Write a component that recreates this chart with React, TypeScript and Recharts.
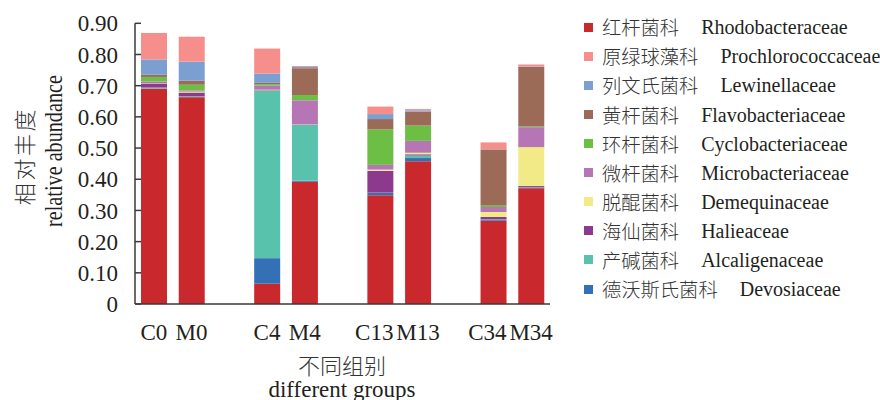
import { BarChart, Bar, XAxis, YAxis, Legend, Label } from "recharts";

// Relative abundance of the ten dominant bacterial families per sample group.
const GROUPS = ["C0", "M0", "C4", "M4", "C13", "M13", "C34", "M34"];

const rhodobacteraceae = [0.69, 0.663, 0.065, 0.392, 0.349, 0.458, 0.267, 0.371];
const devosiaceae = [0.001, 0.001, 0.082, 0.003, 0.007, 0.01, 0.004, 0.002];
const alcaligenaceae = [0.003, 0.002, 0.536, 0.179, 0.001, 0.008, 0.001, 0.001];
const halieaceae = [0.012, 0.012, 0.002, 0.001, 0.07, 0.004, 0.007, 0.004];
const demequinaceae = [0.001, 0.003, 0.002, 0.001, 0.004, 0.005, 0.016, 0.125];
const microbacteriaceae = [0.006, 0.003, 0.013, 0.077, 0.015, 0.038, 0.016, 0.064];
const cyclobacteriaceae = [0.015, 0.019, 0.005, 0.017, 0.114, 0.049, 0.006, 0.003];
const flavobacteriaceae = [0.007, 0.013, 0.004, 0.086, 0.033, 0.045, 0.178, 0.19];
const lewinellaceae = [0.049, 0.061, 0.03, 0.004, 0.016, 0.004, 0.001, 0.002];
const prochlorococcaceae = [0.085, 0.08, 0.08, 0.003, 0.024, 0.004, 0.022, 0.006];

const Y_TICKS = [0, 0.1, 0.2, 0.3, 0.4, 0.5, 0.6, 0.7, 0.8, 0.9];

type Family = { key: string; zh: string; en: string; color: string; values: number[] };

// legend order (top to bottom)
const FAMILIES: Family[] = [
  { key: "rho", zh: "红杆菌科", en: "Rhodobacteraceae", color: "#C9282D", values: rhodobacteraceae },
  { key: "pro", zh: "原绿球藻科", en: "Prochlorococcaceae", color: "#F68E8C", values: prochlorococcaceae },
  { key: "lew", zh: "列文氏菌科", en: "Lewinellaceae", color: "#7B9FD1", values: lewinellaceae },
  { key: "fla", zh: "黄杆菌科", en: "Flavobacteriaceae", color: "#9B6B57", values: flavobacteriaceae },
  { key: "cyc", zh: "环杆菌科", en: "Cyclobacteriaceae", color: "#6DBE45", values: cyclobacteriaceae },
  { key: "mic", zh: "微杆菌科", en: "Microbacteriaceae", color: "#B675B5", values: microbacteriaceae },
  { key: "dem", zh: "脱醌菌科", en: "Demequinaceae", color: "#F1EA86", values: demequinaceae },
  { key: "hal", zh: "海仙菌科", en: "Halieaceae", color: "#8C3A8E", values: halieaceae },
  { key: "alc", zh: "产碱菌科", en: "Alcaligenaceae", color: "#59C2AC", values: alcaligenaceae },
  { key: "dev", zh: "德沃斯氏菌科", en: "Devosiaceae", color: "#3470B5", values: devosiaceae },
];

// stacking order, bottom to top
const STACK = ["rho", "dev", "alc", "hal", "dem", "mic", "cyc", "fla", "lew", "pro"];

const SERIF = '"Liberation Serif", "Times New Roman", serif';
const CJK = '"Noto Sans CJK SC", sans-serif';
const INK = "#231F20";
const AXIS = "#3a3a3a";

// one empty slot between each C/M pair
const rows: Record<string, string | number>[] = [];
GROUPS.forEach((g, i) => {
  const row: Record<string, string | number> = { group: g };
  FAMILIES.forEach((f) => (row[f.key] = f.values[i]));
  rows.push(row);
  if (i % 2 === 1 && i < GROUPS.length - 1) rows.push({ group: `gap${i}` });
});

function GroupTick({ x, y, payload }: any) {
  const v: string = payload.value;
  if (v.startsWith("gap")) return null;
  const dx = v.length > 2 && v.startsWith("C") ? -6 : 0;
  return (
    <text x={x + dx} y={y} dy={16} textAnchor="middle" fontFamily={SERIF} fontSize={23} fill={INK}>
      {v}
    </text>
  );
}

function FamilyLegend() {
  return (
    <div style={{ whiteSpace: "nowrap", color: INK }}>
      {FAMILIES.map((f) => (
        <div key={f.key} style={{ display: "flex", alignItems: "center", height: 29.1 }}>
          <span style={{ width: 9, height: 9, background: f.color, marginRight: 9, flex: "none" }} />
          <span style={{ fontFamily: CJK, fontSize: 19.3, fontWeight: 300, color: "#333", lineHeight: "20px" }}>
            {f.zh}
          </span>
          <span style={{ fontFamily: SERIF, fontSize: 20, marginLeft: 22, lineHeight: "20px" }}>{f.en}</span>
        </div>
      ))}
    </div>
  );
}

export default function App() {
  return (
    <div style={{ position: "absolute", left: 0, top: 0, width: 880, height: 400, background: "#fff", overflow: "hidden" }}>
      <BarChart
        width={880}
        height={400}
        data={rows}
        margin={{ top: 23.3, right: 330, bottom: 66, left: 75 }}
        barSize={26}
      >
        <YAxis
          width={60}
          domain={[0, 0.9]}
          ticks={Y_TICKS}
          interval={0}
          stroke={AXIS}
          strokeWidth={1.5}
          tickSize={-6}
          tickMargin={23}
          tick={{ fontFamily: SERIF, fontSize: 23, fill: INK }}
          tickFormatter={(v: number) => (v === 0 ? "0" : v.toFixed(2))}
        >
          <Label
            content={() => (
              <g>
                <text
                  transform="translate(23,156) rotate(-90)"
                  textAnchor="middle"
                  dominantBaseline="central"
                  fontFamily={CJK}
                  fontSize={22}
                  fontWeight={300}
                  letterSpacing={2.6}
                  fill="#333"
                >
                  相对丰度
                </text>
                <text
                  transform="translate(62,151) rotate(-90) scale(0.777,1)"
                  textAnchor="middle"
                  fontFamily={SERIF}
                  fontSize={26}
                  fill={INK}
                >
                  relative abundance
                </text>
              </g>
            )}
          />
        </YAxis>
        <XAxis
          dataKey="group"
          height={30}
          interval={0}
          tickLine={false}
          tickSize={0}
          tickMargin={20}
          stroke={AXIS}
          strokeWidth={1.5}
          tick={<GroupTick />}
        >
          <Label
            content={() => (
              <g>
                <text
                  x={342}
                  y={364}
                  textAnchor="middle"
                  dominantBaseline="central"
                  fontFamily={CJK}
                  fontSize={22}
                  fontWeight={300}
                  fill="#333"
                >
                  不同组别
                </text>
                <text x={342} y={397} textAnchor="middle" fontFamily={SERIF} fontSize={23} fill={INK}>
                  different groups
                </text>
              </g>
            )}
          />
        </XAxis>
        <Legend
          layout="vertical"
          align="center"
          verticalAlign="middle"
          wrapperStyle={{ left: 584, top: 12.7, width: 296 }}
          content={() => <FamilyLegend />}
        />
        {STACK.map((k) => {
          const f = FAMILIES.find((x) => x.key === k)!;
          return <Bar key={k} dataKey={k} name={f.en} stackId="a" fill={f.color} isAnimationActive={false} />;
        })}
      </BarChart>
    </div>
  );
}
